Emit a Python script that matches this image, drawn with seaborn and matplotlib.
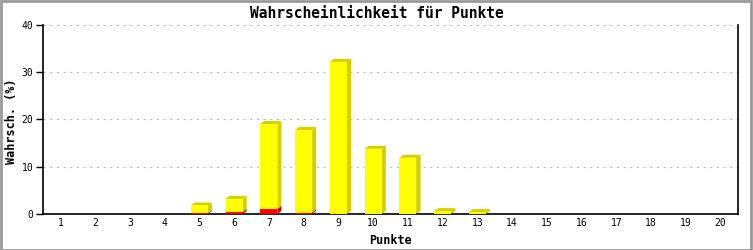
import matplotlib
matplotlib.use("Agg")
import matplotlib.pyplot as plt
import seaborn as sns
import pandas as pd
from matplotlib.patches import Polygon, Rectangle

points = [str(i) for i in range(1, 21)]
red_vals = [0, 0, 0, 0, 0.15, 0.4, 1.05, 0.3, 0, 0, 0, 0, 0, 0, 0, 0, 0, 0, 0, 0]
yellow_vals = [0, 0, 0, 0, 1.65, 2.8, 18.0, 17.5, 32.2, 13.8, 11.9, 0.6, 0.4, 0, 0, 0, 0, 0, 0, 0]
y_ticks = [0, 10, 20, 30, 40]

title = "Wahrscheinlichkeit für Punkte"
xlabel = "Punkte"
ylabel = "Wahrsch. (%)"

sns.set_style("white")
plt.rcParams['font.family'] = ['DejaVu Sans Mono']
plt.rcParams['text.color'] = 'black'
plt.rcParams['axes.labelcolor'] = 'black'
plt.rcParams['xtick.color'] = 'black'
plt.rcParams['ytick.color'] = 'black'

df = pd.DataFrame({"Punkte": points, "red": red_vals, "yellow": yellow_vals})
df["total"] = df["red"] + df["yellow"]

fig = plt.figure(figsize=(7.53, 2.5), dpi=100)
ax = fig.add_axes([43 / 753, 1 - 214 / 250, (738 - 43) / 753, (214 - 25) / 250])

sns.barplot(data=df, x="Punkte", y="total", color="#ffff00", width=0.49,
            saturation=1, ax=ax, zorder=3)
sns.barplot(data=df, x="Punkte", y="red", color="#ff0000", width=0.49,
            saturation=1, ax=ax, zorder=3)

# 3D depth faces derived from the drawn bars
dx = 4 / 34.74
dy = 3 / 4.725
n = len(points)
patches = list(ax.patches)
tot_patches = patches[:n]
red_patches = patches[n:2 * n]
side_y = "#d4d000"
side_r = "#cc0000"
for tp, rp in zip(tot_patches, red_patches):
    h = tp.get_height()
    if h <= 0:
        continue
    x0 = tp.get_x()
    x1 = x0 + tp.get_width()
    r = rp.get_height()
    ax.add_patch(Polygon([(x1, r), (x1 + dx, r + dy), (x1 + dx, h + dy), (x1, h)],
                         closed=True, facecolor=side_y, edgecolor="none", zorder=2.5))
    ax.add_patch(Polygon([(x0, h), (x0 + dx, h + dy), (x1 + dx, h + dy), (x1, h)],
                         closed=True, facecolor=side_y, edgecolor="none", zorder=2.5))
    if r > 0:
        ax.add_patch(Polygon([(x1, 0), (x1 + dx, dy), (x1 + dx, r + dy), (x1, r)],
                             closed=True, facecolor=side_r, edgecolor="none", zorder=2.6))
    else:
        ax.add_patch(Polygon([(x1, 0), (x1 + dx, dy), (x1 + dx, h + dy), (x1, h)],
                             closed=True, facecolor=side_y, edgecolor="none", zorder=2.5))

for p in patches:
    p.set_edgecolor("none")

ax.set_xlim(-0.5, n - 0.5)
ax.set_ylim(0, 40)
ax.set_yticks(y_ticks)
ax.set_yticklabels([str(v) for v in y_ticks], fontsize=7)
ax.tick_params(axis="y", direction="out", length=5, width=1, color="black", pad=2, left=True)
ax.tick_params(axis="x", length=0, pad=3, labelsize=7)
ax.yaxis.grid(True, linestyle=(0, (2, 4)), color="#bbbbbb", linewidth=0.8, zorder=0)
ax.xaxis.grid(False)
ax.set_axisbelow(True)

for side in ["left", "bottom", "right"]:
    ax.spines[side].set_visible(True)
    ax.spines[side].set_color("black")
    ax.spines[side].set_linewidth(1.2)
ax.spines["top"].set_visible(False)

ax.set_xlabel(xlabel, fontsize=8.5, fontweight="bold")
ax.xaxis.set_label_coords(0.5, -(240 - 214) / 189)
ax.set_ylabel(ylabel, fontsize=8.5, fontweight="bold")
ax.yaxis.set_label_coords(-(43 - 12) / 695, (214 - 121) / 189)
for lab in (ax.xaxis.label, ax.yaxis.label):
    lab.set_verticalalignment("center")
    lab.set_horizontalalignment("center")
fig.text(0.5, 1 - 13 / 250, title, ha="center", va="center", fontsize=10.5, fontweight="bold")

fig.patches.append(Rectangle((0.001, 0.002), 0.997, 0.995, transform=fig.transFigure,
                             fill=False, edgecolor="#999999", linewidth=2))

fig.savefig("out.png", dpi=100)
